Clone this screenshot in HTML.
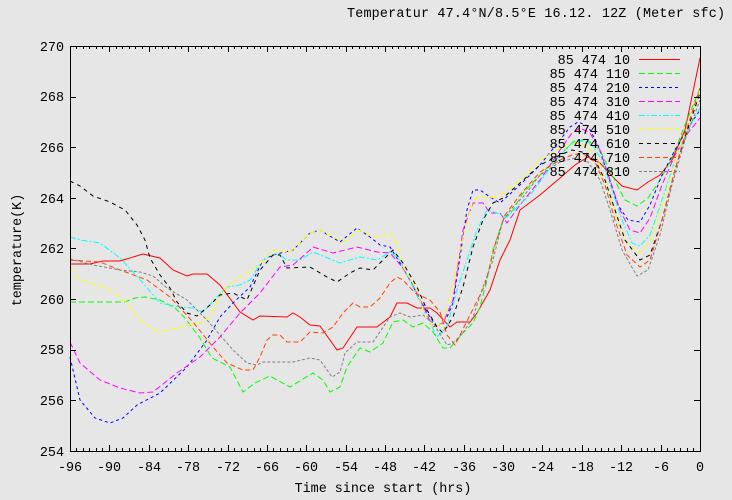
<!DOCTYPE html>
<html><head><meta charset="utf-8"><style>
html,body{margin:0;padding:0;background:#e6e6e6;}
svg{display:block;font-family:"Liberation Mono",monospace;font-size:13.4px;}
</style></head><body>
<svg width="732" height="500" viewBox="0 0 732 500" xmlns="http://www.w3.org/2000/svg">
<rect width="732" height="500" fill="#e6e6e6"/>
<text x="347" y="17" textLength="378" lengthAdjust="spacing">Temperatur 47.4°N/8.5°E 16.12. 12Z (Meter sfc)</text>
<g font-size="13.4">
<text x="64" y="51" text-anchor="end">270</text>
<text x="64" y="101" text-anchor="end">268</text>
<text x="64" y="152" text-anchor="end">266</text>
<text x="64" y="203" text-anchor="end">264</text>
<text x="64" y="253" text-anchor="end">262</text>
<text x="64" y="304" text-anchor="end">260</text>
<text x="64" y="354" text-anchor="end">258</text>
<text x="64" y="405" text-anchor="end">256</text>
<text x="64" y="456" text-anchor="end">254</text>
<text x="70" y="471" text-anchor="middle">-96</text>
<text x="109" y="471" text-anchor="middle">-90</text>
<text x="149" y="471" text-anchor="middle">-84</text>
<text x="188" y="471" text-anchor="middle">-78</text>
<text x="228" y="471" text-anchor="middle">-72</text>
<text x="267" y="471" text-anchor="middle">-66</text>
<text x="306" y="471" text-anchor="middle">-60</text>
<text x="346" y="471" text-anchor="middle">-54</text>
<text x="385" y="471" text-anchor="middle">-48</text>
<text x="424" y="471" text-anchor="middle">-42</text>
<text x="464" y="471" text-anchor="middle">-36</text>
<text x="503" y="471" text-anchor="middle">-30</text>
<text x="542" y="471" text-anchor="middle">-24</text>
<text x="582" y="471" text-anchor="middle">-18</text>
<text x="621" y="471" text-anchor="middle">-12</text>
<text x="661" y="471" text-anchor="middle">-6</text>
<text x="700" y="471" text-anchor="middle">0</text>
<text x="383" y="492" text-anchor="middle">Time since start (hrs)</text>
<text transform="translate(21,250) rotate(-90)" text-anchor="middle">temperature(K)</text>
</g>
<g fill="none" stroke-width="1">
<polyline stroke="#ff0000" points="70,264 90,264 103,261 120,261 143,254 160,258 173,270 187,276 193,274 207,274 220,285 240,312 253,320 260,316 287,317 293,313 300,317 310,325 320,326 337,350 343,348 357,327 377,327 390,317 397,303 407,303 417,308 430,308 437,313 450,327 457,322 470,322 477,313 490,290 500,260 510,240 520,210 540,195 560,178 575,165 588,157 600,163 612,176 622,186 637,190 648,182 660,175 672,160 685,130 700,58"/>
<polyline stroke="#00ff00" stroke-dasharray="6,3" points="70,302 125,302 135,298 145,297 160,300 175,308 185,318 200,338 212,358 230,367 243,392 255,383 270,376 290,387 313,373 323,380 330,392 340,387 347,367 360,348 370,352 383,343 393,322 403,320 413,327 423,323 433,332 443,348 450,348 463,333 473,323 480,307 487,280 493,250 503,220 513,210 523,193 540,175 560,155 575,140 590,142 600,150 612,175 625,200 637,206 648,198 660,180 672,158 685,125 700,88"/>
<polyline stroke="#0000ff" stroke-dasharray="3,3" points="70,357 80,400 95,418 110,423 123,418 137,405 160,393 187,367 207,340 220,317 233,303 250,287 263,260 273,255 293,250 310,233 320,230 340,242 357,228 370,237 380,245 390,247 400,263 410,280 420,300 430,317 437,327 447,317 453,303 460,257 467,210 473,190 480,190 490,197 500,203 520,185 540,165 560,140 570,127 578,122 588,126 598,145 608,175 618,205 628,220 640,222 650,205 662,175 675,150 688,128 700,110"/>
<polyline stroke="#ff00ff" stroke-dasharray="6,3" points="70,342 80,363 100,380 120,388 140,393 153,392 177,373 200,357 220,337 240,313 260,293 280,267 293,265 310,250 313,247 333,253 357,247 377,252 390,253 403,268 417,293 433,327 443,323 453,300 463,230 473,203 483,203 490,213 500,213 507,223 520,205 540,180 560,150 572,133 580,128 590,133 600,150 610,180 620,210 630,230 640,233 650,218 662,185 675,155 688,133 700,118"/>
<polyline stroke="#00ffff" stroke-dasharray="6,2,2,2" points="70,237 80,240 100,243 120,258 143,283 160,303 180,307 193,308 203,312 217,297 227,287 240,285 250,280 263,260 277,253 287,260 300,260 313,252 340,263 360,257 377,260 390,252 400,260 413,287 427,317 437,337 447,327 457,290 467,260 477,230 487,210 497,213 507,217 517,207 530,195 545,175 560,155 572,143 582,140 592,145 602,160 612,190 622,220 632,243 640,246 650,235 662,200 675,160 688,130 700,108"/>
<polyline stroke="#ffff00" stroke-dasharray="6,3" points="70,267 80,280 107,288 127,303 140,320 157,332 170,330 187,325 200,323 210,317 223,290 240,277 257,267 273,250 290,252 310,233 320,230 343,242 360,230 377,238 390,233 397,243 403,267 417,290 423,310 433,327 443,323 453,283 463,237 473,200 480,197 490,198 500,195 520,180 540,160 560,148 575,143 587,145 598,160 608,190 618,222 628,245 640,253 650,240 662,205 675,160 688,125 700,90"/>
<polyline stroke="#000000" stroke-dasharray="4,4" points="70,181 80,186 93,196 110,202 125,210 137,225 145,240 150,258 160,275 170,288 177,302 187,313 197,316 210,305 220,295 233,293 243,298 247,300 260,270 273,255 280,255 287,268 310,267 327,277 337,282 350,273 360,268 373,270 383,260 393,250 403,263 417,287 427,310 437,327 443,333 453,317 463,287 473,247 483,220 493,203 503,198 520,183 540,165 560,155 572,150 582,152 595,160 605,180 615,210 625,240 640,260 650,255 662,220 675,170 688,128 700,93"/>
<polyline stroke="#ff4000" stroke-dasharray="5,3" points="70,260 100,262 120,270 147,280 170,297 193,322 213,347 227,363 243,370 253,370 260,357 267,340 273,335 280,335 287,342 300,342 310,332 323,333 333,327 343,313 353,303 360,307 370,307 380,298 390,283 397,277 403,280 415,293 430,300 440,312 447,335 455,345 465,325 475,305 485,285 495,245 505,215 520,195 540,172 560,160 572,155 582,153 595,162 605,185 615,220 627,255 640,267 650,260 662,220 675,170 688,125 700,88"/>
<polyline stroke="#808080" stroke-dasharray="3,2" points="70,259 93,265 120,270 140,272 153,276 167,288 187,300 207,320 233,350 247,363 257,365 263,362 277,362 293,362 310,358 320,360 332,377 340,372 345,353 357,342 373,342 390,317 400,313 410,317 423,315 433,323 447,345 453,343 463,333 473,317 483,287 493,260 503,220 513,207 523,197 540,175 560,162 575,158 588,162 600,180 610,210 622,250 637,276 648,270 660,235 672,185 685,140 700,100"/>
</g>
<g font-size="13.4">
<text x="630" y="64" text-anchor="end" xml:space="preserve">85 474 10</text>
<text x="630" y="78" text-anchor="end" xml:space="preserve">85 474 110</text>
<text x="630" y="92" text-anchor="end" xml:space="preserve">85 474 210</text>
<text x="630" y="106" text-anchor="end" xml:space="preserve">85 474 310</text>
<text x="630" y="120" text-anchor="end" xml:space="preserve">85 474 410</text>
<text x="630" y="134" text-anchor="end" xml:space="preserve">85 474 510</text>
<text x="630" y="148" text-anchor="end" xml:space="preserve">85 474 610</text>
<text x="630" y="162" text-anchor="end" xml:space="preserve">85 474 710</text>
<text x="630" y="176" text-anchor="end" xml:space="preserve">85 474 810</text>
</g>
<g fill="none" stroke-width="1">
<line x1="639" y1="59.5" x2="680" y2="59.5" stroke="#ff0000"/>
<line x1="639" y1="73.5" x2="680" y2="73.5" stroke="#00ff00" stroke-dasharray="6,3"/>
<line x1="639" y1="87.5" x2="680" y2="87.5" stroke="#0000ff" stroke-dasharray="3,3"/>
<line x1="639" y1="101.5" x2="680" y2="101.5" stroke="#ff00ff" stroke-dasharray="6,3"/>
<line x1="639" y1="115.5" x2="680" y2="115.5" stroke="#00ffff" stroke-dasharray="6,2,2,2"/>
<line x1="639" y1="129.5" x2="680" y2="129.5" stroke="#ffff00" stroke-dasharray="6,3"/>
<line x1="639" y1="143.5" x2="680" y2="143.5" stroke="#000000" stroke-dasharray="4,4"/>
<line x1="639" y1="157.5" x2="680" y2="157.5" stroke="#ff4000" stroke-dasharray="5,3"/>
<line x1="639" y1="171.5" x2="680" y2="171.5" stroke="#808080" stroke-dasharray="3,2"/>
</g>
<rect x="70.5" y="46.5" width="630" height="405" fill="none" stroke="#000" stroke-width="1"/>
<path stroke="#000" stroke-width="1" fill="none" d="
M70,46.5h6M700,46.5h-6M70,97.5h6M700,97.5h-6M70,147.5h6M700,147.5h-6M70,198.5h6M700,198.5h-6M70,248.5h6M700,248.5h-6M70,299.5h6M700,299.5h-6M70,350.5h6M700,350.5h-6M70,400.5h6M700,400.5h-6
M109.5,451v-6M109.5,46v6M149.5,451v-6M149.5,46v6M188.5,451v-6M188.5,46v6M228.5,451v-6M228.5,46v6M267.5,451v-6M267.5,46v6M306.5,451v-6M306.5,46v6M346.5,451v-6M346.5,46v6M385.5,451v-6M385.5,46v6M424.5,451v-6M424.5,46v6M464.5,451v-6M464.5,46v6M503.5,451v-6M503.5,46v6M542.5,451v-6M542.5,46v6M582.5,451v-6M582.5,46v6M621.5,451v-6M621.5,46v6M661.5,451v-6M661.5,46v6
M76.5,451v-3M76.5,46v3M83.5,451v-3M83.5,46v3M89.5,451v-3M89.5,46v3M96.5,451v-3M96.5,46v3M102.5,451v-3M102.5,46v3
M116.5,451v-3M116.5,46v3M122.5,451v-3M122.5,46v3M129.5,451v-3M129.5,46v3M135.5,451v-3M135.5,46v3M142.5,451v-3M142.5,46v3
M155.5,451v-3M155.5,46v3M162.5,451v-3M162.5,46v3M168.5,451v-3M168.5,46v3M175.5,451v-3M175.5,46v3M181.5,451v-3M181.5,46v3
M195.5,451v-3M195.5,46v3M201.5,451v-3M201.5,46v3M208.5,451v-3M208.5,46v3M214.5,451v-3M214.5,46v3M221.5,451v-3M221.5,46v3
M234.5,451v-3M234.5,46v3M241.5,451v-3M241.5,46v3M247.5,451v-3M247.5,46v3M254.5,451v-3M254.5,46v3M260.5,451v-3M260.5,46v3
M273.5,451v-3M273.5,46v3M280.5,451v-3M280.5,46v3M287.5,451v-3M287.5,46v3M293.5,451v-3M293.5,46v3M300.5,451v-3M300.5,46v3
M313.5,451v-3M313.5,46v3M319.5,451v-3M319.5,46v3M326.5,451v-3M326.5,46v3M332.5,451v-3M332.5,46v3M339.5,451v-3M339.5,46v3
M352.5,451v-3M352.5,46v3M359.5,451v-3M359.5,46v3M365.5,451v-3M365.5,46v3M372.5,451v-3M372.5,46v3M378.5,451v-3M378.5,46v3
M392.5,451v-3M392.5,46v3M398.5,451v-3M398.5,46v3M405.5,451v-3M405.5,46v3M411.5,451v-3M411.5,46v3M418.5,451v-3M418.5,46v3
M431.5,451v-3M431.5,46v3M438.5,451v-3M438.5,46v3M444.5,451v-3M444.5,46v3M451.5,451v-3M451.5,46v3M457.5,451v-3M457.5,46v3
M470.5,451v-3M470.5,46v3M477.5,451v-3M477.5,46v3M483.5,451v-3M483.5,46v3M490.5,451v-3M490.5,46v3M496.5,451v-3M496.5,46v3
M510.5,451v-3M510.5,46v3M516.5,451v-3M516.5,46v3M523.5,451v-3M523.5,46v3M529.5,451v-3M529.5,46v3M536.5,451v-3M536.5,46v3
M549.5,451v-3M549.5,46v3M556.5,451v-3M556.5,46v3M562.5,451v-3M562.5,46v3M569.5,451v-3M569.5,46v3M575.5,451v-3M575.5,46v3
M588.5,451v-3M588.5,46v3M595.5,451v-3M595.5,46v3M601.5,451v-3M601.5,46v3M608.5,451v-3M608.5,46v3M614.5,451v-3M614.5,46v3
M628.5,451v-3M628.5,46v3M634.5,451v-3M634.5,46v3M641.5,451v-3M641.5,46v3M647.5,451v-3M647.5,46v3M654.5,451v-3M654.5,46v3
M667.5,451v-3M667.5,46v3M674.5,451v-3M674.5,46v3M680.5,451v-3M680.5,46v3M687.5,451v-3M687.5,46v3M693.5,451v-3M693.5,46v3"/>
</svg>
</body></html>
